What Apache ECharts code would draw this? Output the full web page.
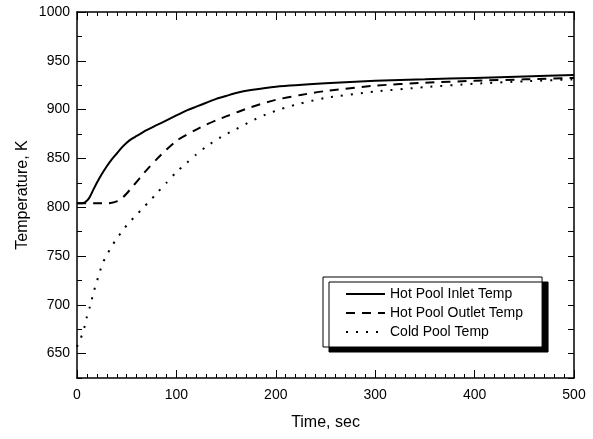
<!DOCTYPE html>
<html>
<head>
<meta charset="utf-8">
<script src="https://cdn.jsdelivr.net/npm/echarts@6/dist/echarts.min.js"></script>
<style>
  html, body { margin: 0; padding: 0; background: #fff; }
  #chart { width: 593px; height: 439px; }
</style>
</head>
<body>
<div id="chart"></div>
<script>
// values
const inletTime = [0, 5, 8, 12, 16, 20, 25, 30, 35, 40, 45, 50, 55, 60, 70, 80, 90, 100, 110, 120, 130, 140, 150, 160, 175, 200, 250, 300, 350, 400, 450, 500]
const inletTemp = [804, 804, 805, 809, 817, 825, 834, 842, 849, 855, 861, 866, 870, 873, 879, 884, 889, 894, 899, 903, 907, 911, 914, 917, 920, 923.5, 927, 929.5, 931, 932.5, 934, 935.5]

const outletTime = [0, 10, 20, 30, 35, 40, 45, 50, 55, 60, 65, 70, 80, 90, 100, 110, 120, 130, 140, 150, 175, 200, 225, 250, 300, 350, 400, 450, 500]
const outletTemp = [804, 804, 804, 804, 804.5, 806, 809, 814, 820, 826, 832, 838, 849, 859, 868, 874, 879.5, 884.5, 889, 893, 902.5, 910, 915, 919, 924.5, 927.5, 929.5, 931, 932.5]

const coldTime = [0, 3, 5, 8, 10, 13, 17, 20, 23, 26, 30, 35, 40, 46, 52, 59, 66, 73, 80, 90, 100, 110, 120, 130, 145, 160, 175, 190, 205, 220, 250, 300, 350, 400, 450, 500]
const coldTemp = [657, 664, 669, 679, 688, 698, 714, 724, 734, 743, 751, 760, 768, 776, 784, 791, 799, 806, 814, 825, 836, 845, 854, 862, 872, 880, 888, 895, 900.5, 905, 912, 918.5, 923, 926.5, 929, 931]

const seriesNames = ['Hot Pool Inlet Temp', 'Hot Pool Outlet Temp', 'Cold Pool Temp']
const yMajorTicks = [650, 700, 750, 800, 850, 900, 950, 1000]
const yMinorTicks = [625, 675, 725, 775, 825, 875, 925, 975]
const yAllTicks = [625, 650, 675, 700, 725, 750, 775, 800, 825, 850, 875, 900, 925, 950, 975, 1000]

const pairs = (xs, ys) => xs.map((x, i) => [x, ys[i]])

const font = 'Arial, "Liberation Sans", sans-serif'
const black = '#000'

const chart = echarts.init(document.getElementById('chart'), null, { renderer: 'canvas' })

const xBase = {
  type: 'value',
  min: 0,
  max: 500,
  interval: 100,
  splitLine: { show: false },
  axisLine: { onZero: false, lineStyle: { color: black, width: 1.5 } },
  axisTick: { inside: true, length: 8, lineStyle: { color: black, width: 1 } },
  minorTick: { show: true, splitNumber: 10, length: 4, lineStyle: { color: black, width: 1 } },
  minorSplitLine: { show: false }
}

const yBase = {
  type: 'value',
  min: 625,
  max: 1000,
  interval: 25,
  splitLine: { show: false },
  axisLine: { onZero: false, lineStyle: { color: black, width: 1.5 } }
}

chart.setOption({
  animation: false,
  grid: { left: 77, right: 19, top: 12, bottom: 61, containLabel: false },
  legend: {
    data: seriesNames,
    orient: 'vertical',
    left: 323,
    top: 277,
    itemWidth: 39,
    itemHeight: 14,
    itemGap: 5,
    padding: [10, 19, 8, 22],
    backgroundColor: '#fff',
    borderColor: black,
    borderWidth: 1,
    shadowColor: black,
    shadowBlur: 0,
    shadowOffsetX: 6,
    shadowOffsetY: 5,
    itemStyle: { opacity: 0 },
    lineStyle: { opacity: 1 },
    textStyle: { fontFamily: font, fontSize: 14, color: black },
    selectedMode: false
  },
  xAxis: [
    Object.assign({}, xBase, {
      position: 'bottom',
      name: 'Time, sec',
      nameLocation: 'middle',
      nameGap: 37,
      nameMoveOverlap: false,
      nameTextStyle: { fontFamily: font, fontSize: 16, color: black },
      axisLabel: { margin: 10, fontFamily: font, fontSize: 14, color: black }
    }),
    Object.assign({}, xBase, {
      position: 'top',
      axisLabel: { show: false }
    })
  ],
  yAxis: [
    Object.assign({}, yBase, {
      position: 'left',
      name: 'Temperature, K',
      nameLocation: 'middle',
      nameGap: 46,
      nameMoveOverlap: false,
      nameRotate: 90,
      nameTextStyle: { fontFamily: font, fontSize: 16, color: black },
      axisTick: { inside: true, length: 9, customValues: yMajorTicks, lineStyle: { color: black, width: 1 } },
      axisLabel: {
        margin: 7,
        customValues: yMajorTicks,
        formatter: v => String(v),
        fontFamily: font,
        fontSize: 14,
        color: black
      }
    }),
    Object.assign({}, yBase, {
      position: 'left',
      axisLine: { show: false },
      axisTick: { inside: true, length: 5, customValues: yMinorTicks, lineStyle: { color: black, width: 1 } },
      axisLabel: { show: false }
    }),
    Object.assign({}, yBase, {
      position: 'right',
      axisTick: { inside: true, length: 6, customValues: yAllTicks, lineStyle: { color: black, width: 1 } },
      axisLabel: { show: false }
    })
  ],
  series: [
    {
      name: seriesNames[0],
      type: 'line',
      data: pairs(inletTime, inletTemp),
      symbol: 'none',
      smooth: 0.25,
      lineStyle: { color: black, width: 2, type: 'solid' },
      itemStyle: { color: black }
    },
    {
      name: seriesNames[1],
      type: 'line',
      data: pairs(outletTime, outletTemp),
      symbol: 'none',
      smooth: 0.25,
      lineStyle: { color: black, width: 2, type: [9, 7] },
      itemStyle: { color: black }
    },
    {
      name: seriesNames[2],
      type: 'line',
      data: pairs(coldTime, coldTemp),
      symbol: 'none',
      smooth: 0.25,
      lineStyle: { color: black, width: 2, type: [2, 8] },
      itemStyle: { color: black }
    }
  ]
})
</script>
</body>
</html>
